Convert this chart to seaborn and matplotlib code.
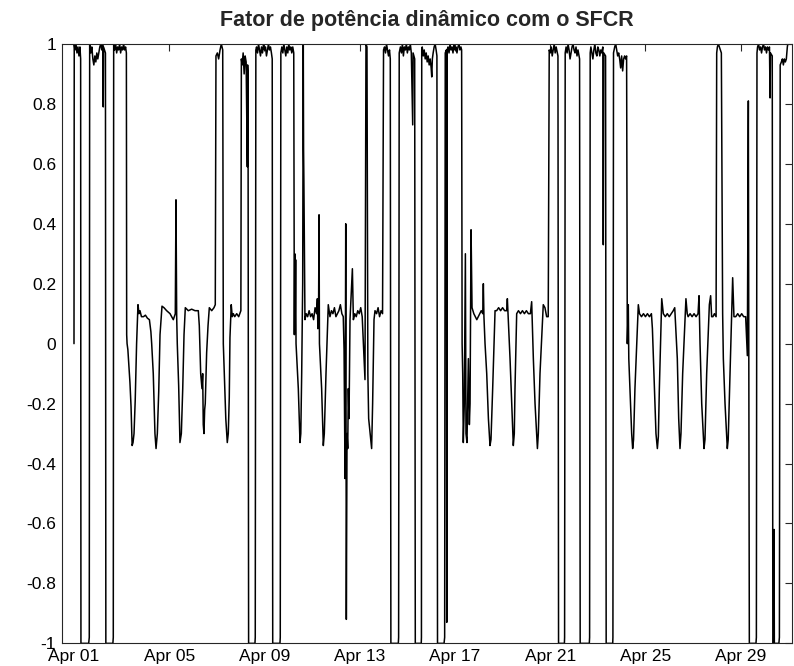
import matplotlib
matplotlib.use("Agg")
import matplotlib.pyplot as plt
import matplotlib.dates as mdates
import pandas as pd
import seaborn as sns

# hours since 2017-04-01 00:00
hours = [
    0, 0.25, 1, 2, 3, 4, 5, 6, 6.7,
    7.0, 14.8, 15.4, 15.8,
    16, 17, 18, 19, 20, 21, 22, 23, 24, 25, 26, 27, 28, 29, 29.5, 29.8, 31.7,
    32.1, 39.2, 39.6, 40,
    41, 42, 43, 44, 45, 46, 47, 48, 49, 50, 51, 52, 52.8,
    53.1, 53.5, 54.3, 56.4, 57.5, 58.6, 59.5, 60.5, 61.7, 63.1, 64.5, 65.5, 66.5, 68, 70, 72, 74, 76, 77.5,
    78.3, 79.9, 81.6, 82.7, 84, 85.4, 86.7, 88.7, 90.7, 93.4, 96.8, 100.1, 102.1, 102.8, 103.5,
    104.1, 105.5, 106.8, 108.2, 109.6, 110.9, 112.2, 115.2, 118.6, 122, 125.3, 126.3,
    127.7, 129, 129.7, 130.3, 131, 131.7, 132.3, 133.7, 135.1, 136.4, 138.8, 141.1, 142.4,
    143.1, 144.5, 145.8, 147.2, 148.5, 149.9,
    150.5, 151.5, 153, 154.5, 155.5, 156.5, 157.2, 158.5, 159.5, 160.6, 162, 164, 166, 168.2,
    168.7, 169.5, 170.5, 171.5, 172.5, 173.5, 174.7, 175, 175.4,
    176, 182.4, 182.7, 183.3,
    184, 185, 186, 187, 188, 189, 190, 191, 192, 193, 194, 195, 196, 197, 198, 199, 199.8,
    200.3, 207.6, 207.9, 208.5,
    209.5, 210.5, 211.5, 212.5, 213.5, 214.5, 215.5, 216.5, 217.5, 218.5, 219.5, 220.5, 221.5,
    222.1, 222.5, 222.9, 223.4, 223.8, 226.1, 227.8, 228.6, 229.5, 230.5, 231.1, 231.4, 231.7, 232.8,
    234, 235.5, 237, 238.5, 240, 241.5, 243, 244.5, 245.3, 245.8, 246.5, 247, 247.4,
    249.6, 251.3, 252.3, 254, 256.3,
    258, 259.5, 261, 262.5, 264, 265.5, 267, 268.5, 270, 271.4,
    272.2, 273.2, 273.9, 274.5, 275.2, 275.9, 276.5, 277.2, 278.2, 280.6, 281.6,
    283, 284.5, 286, 287.5, 289, 290.5,
    292.3, 293.3, 294.3, 295.3, 296.2, 297, 300, 301, 302.4, 303.4,
    305, 306.5, 308, 309.5, 311,
    312, 313, 314, 315, 316, 317, 318, 318.8,
    319.4, 326.9, 327.2, 327.8,
    329, 330, 331, 332, 333, 334, 335, 336, 337, 338, 339, 340, 341.4, 341.8, 343.4,
    344, 350, 350.2, 350.5,
    351, 352, 353, 354, 355, 356, 357, 358, 359, 360, 360.6, 361.2, 362, 363, 364, 365, 365.8,
    366.4, 373, 373.6, 374.2, 375.3, 375.7, 376.1,
    377, 378, 379, 380, 381, 382, 383, 384, 385, 386, 387, 388, 389, 390, 390.7,
    391.2, 391.8, 392.4, 393.4, 394.5, 395.1, 396.1, 397.5, 398.5, 399.2, 400.2, 401.2,
    403, 404.5, 406, 407.5, 409, 410.5, 412, 412.6, 413.2,
    414.3, 416, 417.7, 419.3, 420.3, 422, 424.4,
    426, 428, 430, 432, 434, 436.1, 436.8, 437.5,
    439.5, 441.2, 442.8, 443.8, 444.5, 446.2,
    448, 450, 452, 454, 456, 458, 460, 461.3,
    463, 464.7, 467.1, 468, 469.7, 473, 474.7, 476.4, 478,
    479, 480, 481, 482, 483, 484, 485, 486, 487.8,
    488.4, 494.3, 494.5, 495.1,
    496, 497, 498, 499, 500, 501, 502, 503, 504, 505, 506, 507, 508, 509.6,
    510.2, 519.4, 519.7, 520.3,
    521, 522, 523, 524, 525, 526, 527, 528, 529, 530, 531, 532, 533, 533.5, 534, 535.8,
    536.4, 543, 543.2, 543.8,
    545, 546, 547, 548, 549, 550, 551, 552, 553, 554, 555, 556, 557,
    557.7, 558.7, 559.2, 560.4, 562.1, 563.1, 564, 565.4, 567.8, 568.8,
    570, 572, 574, 576, 578, 580, 582,
    583, 585, 586.6, 588, 589, 590, 592.4,
    594, 596, 598, 600, 602, 604, 605.5,
    608.1, 609.5, 610.8, 611.8, 613.5, 616.8,
    618.1, 619, 621, 623, 625, 627, 629, 630,
    631, 632.7, 635, 636, 637.7, 640.4, 641.7, 642.7, 644, 645.5, 647.2,
    647.8, 648.5, 649.5, 650.5, 651.5, 652.5,
    653.8, 654.5, 656.2, 658.5, 659.4, 661.2, 663.9, 665.2,
    667, 669, 671, 673, 675, 677, 678.7, 679.7,
    680.7, 687.4, 687.8, 688.4,
    689, 690, 691, 692, 693, 694, 695, 696, 697, 698, 699, 700, 701, 701.6, 702, 703.8,
    704.4, 705.3, 705.6, 705.9, 710.5, 711, 711.8,
    713, 714, 715, 716, 717, 718, 719, 719.5,
]

fp = [
    0.0, 1.0, 0.98, 1.0, 0.97, 0.99, 0.96, 0.99, 0.95,
    -1.0, -1.0, -0.98, 1.0,
    0.99, 0.97, 0.99, 0.95, 0.93, 0.96, 0.94, 0.97, 0.95, 0.97, 0.99, 1.0, 0.98, 1.0, 0.79, 0.99, 0.97,
    -1.0, -1.0, -0.98, 1.0,
    0.98, 1.0, 0.97, 0.99, 0.98, 1.0, 0.97, 0.99, 0.98, 1.0, 0.98, 0.99, 0.97,
    0.03, 0.0, -0.02, -0.13, -0.21, -0.34, -0.33, -0.30, -0.19, 0.0, 0.13, 0.10, 0.11, 0.09, 0.09, 0.095, 0.085, 0.08, 0.04,
    0.0, -0.1, -0.3, -0.35, -0.30, -0.16, 0.03, 0.125, 0.12, 0.11, 0.10, 0.08, 0.10, 0.48, 0.09,
    0.0, -0.14, -0.33, -0.30, -0.15, 0.03, 0.12, 0.11, 0.115, 0.11, 0.11, 0.06,
    -0.1, -0.15, -0.1, -0.27, -0.30, -0.22, -0.2, -0.03, 0.06, 0.12, 0.11, 0.12, 0.13,
    0.96, 0.97, 0.95, 0.98, 1.0, 0.98,
    0.0, -0.1, -0.25, -0.33, -0.3, -0.18, 0.02, 0.13, 0.09, 0.10, 0.09, 0.10, 0.09, 0.11,
    0.95, 0.93, 0.97, 0.90, 0.96, 0.94, 0.59, 0.93, 0.9,
    -1.0, -1.0, -0.98, 0.98,
    0.99, 0.97, 1.0, 0.98, 0.96, 0.99, 0.97, 1.0, 0.98, 0.99, 0.96, 0.98, 1.0, 0.98, 0.99, 0.97, 0.95,
    -1.0, -1.0, -0.98, 0.97,
    0.99, 0.97, 1.0, 0.98, 0.96, 0.99, 0.97, 1.0, 0.98, 0.99, 0.97, 0.99, 0.97,
    0.03, 0.3, 0.05, 0.28, 0.0, -0.15, -0.33, -0.30, -0.1, 0.2, 1.0, 0.65, 0.55, 0.08,
    0.10, 0.09, 0.11, 0.09, 0.10, 0.08, 0.12, 0.10, 0.15, 0.05, 0.1, 0.43, 0.0,
    -0.15, -0.34, -0.30, -0.1, 0.13,
    0.09, 0.11, 0.10, 0.12, 0.09, 0.10, 0.11, 0.13, 0.10, 0.09,
    -0.02, -0.45, 0.40, -0.92, -0.3, -0.35, -0.15, -0.25, 0.08, 0.25, 0.08,
    0.10, 0.09, 0.11, 0.10, 0.12, 0.09,
    -0.05, -0.12, 1.0, 0.99, -0.1, -0.25, -0.35, -0.2, 0.08, 0.11,
    0.10, 0.12, 0.09, 0.11, 0.10,
    0.98, 0.99, 0.97, 1.0, 0.98, 0.96, 0.98, 0.95,
    -1.0, -1.0, -0.98, 0.97,
    0.99, 0.97, 1.0, 0.96, 0.99, 0.98, 1.0, 0.97, 0.99, 0.98, 1.0, 0.97, 0.73, 0.97, 0.95,
    -1.0, -1.0, -0.98, 0.98,
    0.99, 0.96, 0.98, 0.95, 0.97, 0.94, 0.96, 0.93, 0.95, 0.92, 0.89, 0.95, 0.97, 0.99, 1.0, 0.98, 0.96,
    -1.0, -1.0, -0.98, 0.97, 0.98, -0.93, 0.98,
    0.99, 0.97, 1.0, 0.98, 0.99, 0.97, 1.0, 0.98, 0.99, 0.97, 0.99, 1.0, 0.98, 0.99, 0.98,
    0.0, -0.1, -0.33, -0.2, 0.30, -0.3, -0.33, -0.05, -0.27, -0.2, 0.38, 0.12,
    0.10, 0.09, 0.08, 0.09, 0.10, 0.11, 0.10, 0.2, 0.09,
    0.0, -0.1, -0.25, -0.34, -0.32, -0.15, 0.11,
    0.11, 0.12, 0.11, 0.12, 0.11, 0.11, 0.15, 0.1,
    -0.05, -0.2, -0.34, -0.30, -0.15, 0.10,
    0.11, 0.10, 0.11, 0.10, 0.11, 0.10, 0.10, 0.14,
    -0.05, -0.2, -0.35, -0.30, -0.1, 0.13, 0.12, 0.09, 0.09,
    0.98, 0.97, 0.99, 0.96, 0.98, 1.0, 0.97, 0.99, 0.96,
    -1.0, -1.0, -0.98, 0.97,
    0.99, 0.97, 1.0, 0.98, 0.95, 0.97, 0.99, 1.0, 0.98, 0.97, 0.99, 0.96, 0.98, 0.95,
    -1.0, -1.0, -0.98, 0.97,
    0.99, 0.97, 0.95, 0.98, 1.0, 0.97, 0.96, 0.99, 0.98, 0.96, 0.98, 0.97, 0.99, 0.33, 0.97, 0.96,
    -1.0, -1.0, -0.98, 0.97,
    0.99, 1.0, 0.98, 0.96, 0.97, 0.95, 0.92, 0.96, 0.91, 0.95, 0.96, 0.95, 0.96,
    0.0, 0.13, -0.05, -0.15, -0.3, -0.35, -0.32, -0.15, 0.05, 0.13,
    0.10, 0.09, 0.10, 0.09, 0.10, 0.09, 0.10,
    0.05, -0.15, -0.3, -0.35, -0.31, -0.15, 0.15,
    0.10, 0.09, 0.10, 0.09, 0.10, 0.11, 0.12,
    -0.05, -0.25, -0.35, -0.3, -0.1, 0.15,
    0.10, 0.09, 0.10, 0.09, 0.10, 0.09, 0.10, 0.16,
    0.0, -0.2, -0.35, -0.32, -0.1, 0.13, 0.16, 0.09, 0.09, 0.10, 0.09,
    0.97, 0.99, 1.0, 0.99, 0.98, 0.97,
    0.1, -0.05, -0.2, -0.35, -0.32, -0.1, 0.22, 0.09,
    0.09, 0.10, 0.09, 0.10, 0.09, 0.09, -0.04, 0.81,
    -1.0, -1.0, -0.98, 0.97,
    0.99, 1.0, 0.98, 0.99, 0.97, 0.99, 1.0, 0.98, 0.99, 0.97, 0.99, 0.98, 0.99, 0.82, 0.97, 0.96,
    -1.0, -1.0, -0.62, -1.0, -1.0, -0.98, 0.93,
    0.94, 0.95, 0.93, 0.95, 0.94, 0.95, 0.99, 1.0,
]

start = "2017-04-01"
title = "Fator de potência dinâmico com o SFCR"
ytick_vals = [-1, -0.8, -0.6, -0.4, -0.2, 0, 0.2, 0.4, 0.6, 0.8, 1]
ytick_labels = ["-1", "-0.8", "-0.6", "-0.4", "-0.2", "0", "0.2", "0.4", "0.6", "0.8", "1"]
xtick_dates = ["2017-04-01", "2017-04-05", "2017-04-09", "2017-04-13",
               "2017-04-17", "2017-04-21", "2017-04-25", "2017-04-29"]
xtick_labels = ["Apr 01", "Apr 05", "Apr 09", "Apr 13", "Apr 17", "Apr 21", "Apr 25", "Apr 29"]

sns.set_style("white")
plt.rcParams["font.family"] = ["Liberation Sans", "DejaVu Sans"]

t0 = pd.Timestamp(start)
df = pd.DataFrame({"t": t0 + pd.to_timedelta(hours, unit="h"), "fp": fp})

fig = plt.figure(figsize=(7.94, 6.66), dpi=100)
ax = fig.add_axes([0.0777, 0.034, 0.9194, 0.900])
sns.lineplot(data=df, x="t", y="fp", color="black", linewidth=1.1,
             estimator=None, sort=False, ax=ax)

ax.set_xlim(t0 - pd.Timedelta(hours=12.4), t0 + pd.Timedelta(hours=723.4))
ax.set_ylim(-1, 1)
ax.set_yticks(ytick_vals)
ax.set_yticklabels(ytick_labels)
ax.set_xticks([mdates.date2num(pd.Timestamp(d)) for d in xtick_dates])
ax.set_xticklabels(xtick_labels)
ax.set_xlabel("")
ax.set_ylabel("")
ax.tick_params(direction="in", top=True, right=True, length=5, width=0.8,
               labelsize=12.5, pad=4, colors="#262626", labelcolor="black")
ax.tick_params(axis="y", pad=4)
for s in ax.spines.values():
    s.set_color("#262626")
    s.set_linewidth(0.8)
ax.set_title(title, fontsize=15.5, fontweight="bold", pad=13)

fig.savefig("out.png", dpi=100)
